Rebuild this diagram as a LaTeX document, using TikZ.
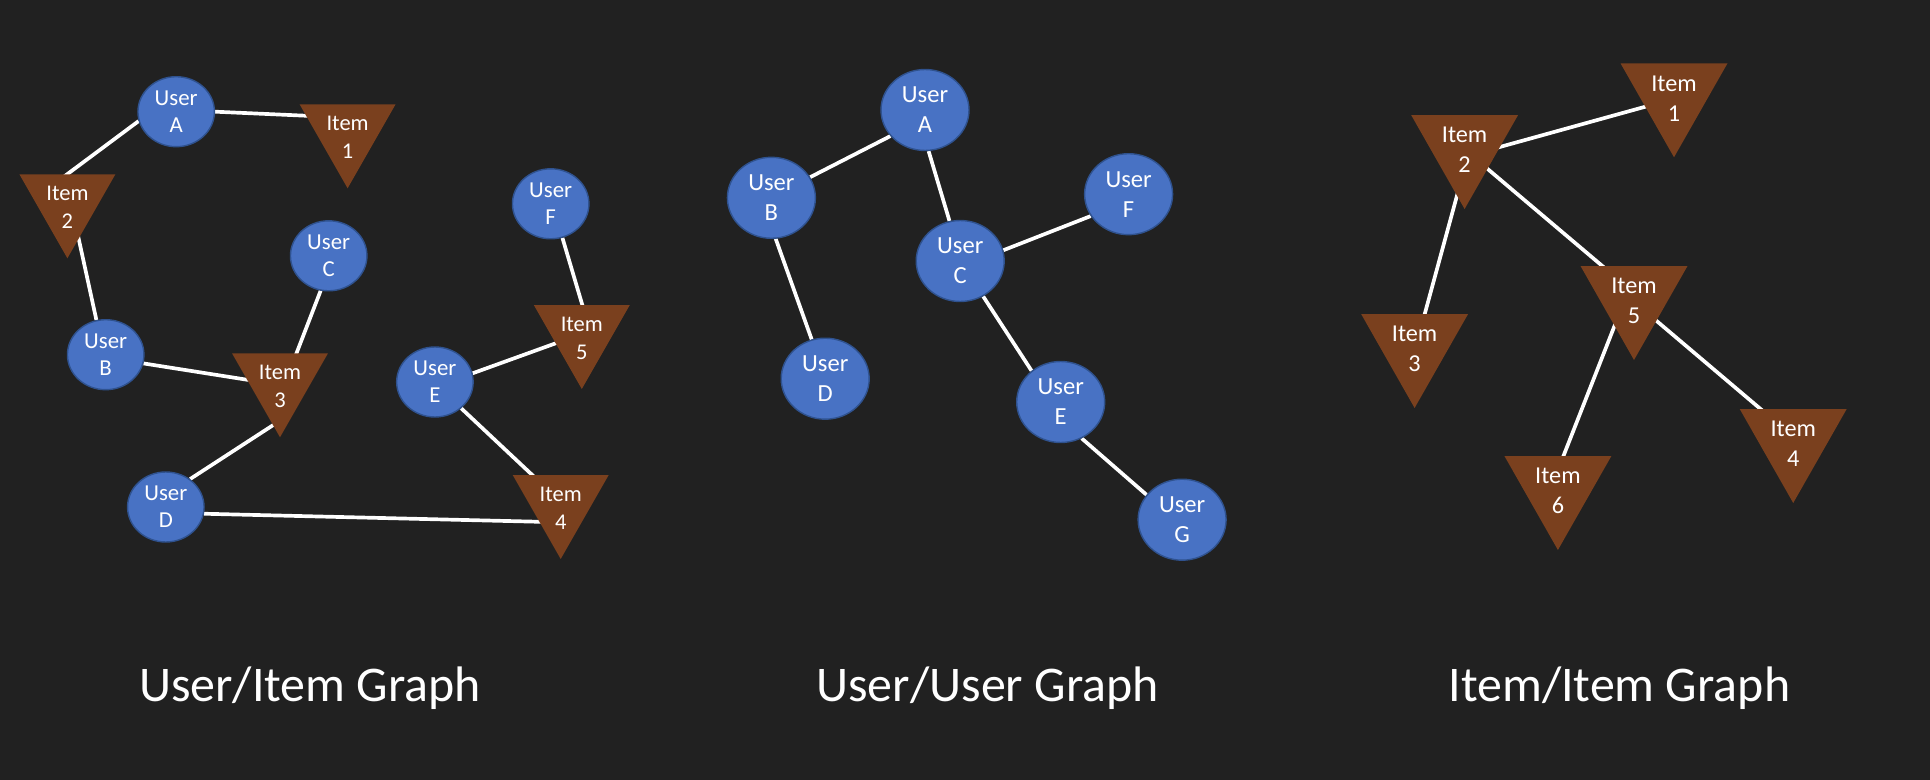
\documentclass[tikz,border=0pt]{standalone}
\usepackage{fontspec}
\setmainfont{Carlito}
\usetikzlibrary{shapes.geometric}
\definecolor{GraphGrau}{RGB}{33,33,33}
\definecolor{UserBlau}{RGB}{72,114,196}
\definecolor{UserRand}{RGB}{47,82,143}
\definecolor{ItemBraun}{RGB}{122,64,30}
\pgfdeclarelayer{back}
\pgfdeclarelayer{links}
\pgfsetlayers{back,links,main}

\begin{document}
\begin{tikzpicture}[x=0.02cm, y=-0.02cm,
    user/.style={shape=ellipse, fill=UserBlau, draw=UserRand, line width=0.8pt, text=white, align=center, inner sep=0pt, minimum width=1.53cm, minimum height=1.4cm, font=\fontsize{13}{15.5}\selectfont},
    buser/.style={user, minimum width=1.76cm, minimum height=1.62cm, font=\fontsize{14}{17}\selectfont},
    item/.style={shape=rectangle, inner sep=0pt, text=white, align=center, minimum width=1.92cm, minimum height=1.68cm, text depth=10pt, font=\fontsize{12.8}{16}\selectfont,
        path picture={\fill[ItemBraun] (path picture bounding box.north west) -- (path picture bounding box.north east) -- (path picture bounding box.south) -- cycle;}},
    bitem/.style={item, minimum width=2.14cm, minimum height=1.88cm, text depth=13.5pt, font=\fontsize{13.8}{17}\selectfont},
    link/.style={white, line width=2.1pt},
    title/.style={text=white, anchor=base, font=\fontsize{28.4}{34}\selectfont}]
    \useasboundingbox (0,0) rectangle (1930,780);

    % user/item graph
    \node[user] (uA) at (176.2,111.7) {User\\A};
    \node[user] (uB) at (105.7,354.7) {User\\B};
    \node[user] (uC) at (328.7,255.8) {User\\C};
    \node[user] (uD) at (165.8,507)   {User\\D};
    \node[user] (uE) at (434.9,382)   {User\\E};
    \node[user] (uF) at (550.7,203.8) {User\\F};
    \node[item] (i1) at (347.6,146.3) {Item\\1};
    \node[item] (i2) at (67.4,216.3)  {Item\\2};
    \node[item] (i3) at (280,395.3)   {Item\\3};
    \node[item] (i4) at (560.7,517)   {Item\\4};
    \node[item] (i5) at (581.8,347)   {Item\\5};

    % user/user graph
    \node[buser] (mA) at (925,110)     {User\\A};
    \node[buser] (mB) at (771.4,197.8) {User\\B};
    \node[buser] (mC) at (960.2,261)   {User\\C};
    \node[buser] (mD) at (825.2,378.7) {User\\D};
    \node[buser] (mE) at (1060.7,402)  {User\\E};
    \node[buser] (mF) at (1128.6,194.2) {User\\F};
    \node[buser] (mG) at (1182.1,519.7) {User\\G};

    % item/item graph
    \node[bitem] (r1) at (1674,110.3)   {Item\\1};
    \node[bitem] (r2) at (1464.6,162)   {Item\\2};
    \node[bitem] (r3) at (1414.6,361)   {Item\\3};
    \node[bitem] (r4) at (1793.2,456)   {Item\\4};
    \node[bitem] (r5) at (1634,313)     {Item\\5};
    \node[bitem] (r6) at (1557.9,503)   {Item\\6};

    \node[title] (t1) at (310,701.7)    {User/Item Graph};
    \node[title] (t2) at (987.5,701.7)  {User/User Graph};
    \node[title] (t3) at (1619.3,701.7) {Item/Item Graph};

    \begin{pgfonlayer}{back}
        \fill[GraphGrau] (0,0) rectangle (1930,780);
    \end{pgfonlayer}

    \begin{pgfonlayer}{links}
        \path[link] (uA.east) edge ([shift={(-29,-30)}]i1.center)
                    (uA.194)  edge ([shift={(-7,-37)}]i2.center)
                    ([shift={(9,12)}]i2.center) edge (uB.105)
                    (uB.347)  edge ([shift={(-23,-14)}]i3.center)
                    (uC.257)  edge ([shift={(13,-33)}]i3.center)
                    ([shift={(-1,26)}]i3.center) edge (uD.49)
                    (uD.350)  edge ([shift={(-12,5)}]i4.center)
                    (uE.315)  edge ([shift={(-21,-35)}]i4.center)
                    (uE.13)   edge ([shift={(-17,-7)}]i5.center)
                    (uF.289)  edge ([shift={(3.5,-32)}]i5.center);
        \path[link] (mA.217) edge (mB.28)
                    (mA.275) edge (mC.105)
                    (mB.276) edge (mD.109)
                    (mC.14)  edge (mF.210)
                    (mC.303) edge (mE.133)
                    (mE.300) edge (mG.145);
        \path[link] ([shift={(26.5,-12.6)}]r2.center) edge ([shift={(-20,-6)}]r1.center)
                    ([shift={(16,1)}]r2.center)   edge ([shift={(-24,-40.5)}]r5.center)
                    ([shift={(-5,24)}]r2.center)  edge ([shift={(7.4,-37)}]r3.center)
                    ([shift={(-16,4)}]r5.center)  edge ([shift={(2,-38)}]r6.center)
                    ([shift={(15,1.5)}]r5.center) edge ([shift={(-25,-40.5)}]r4.center);
    \end{pgfonlayer}
\end{tikzpicture}
\end{document}
